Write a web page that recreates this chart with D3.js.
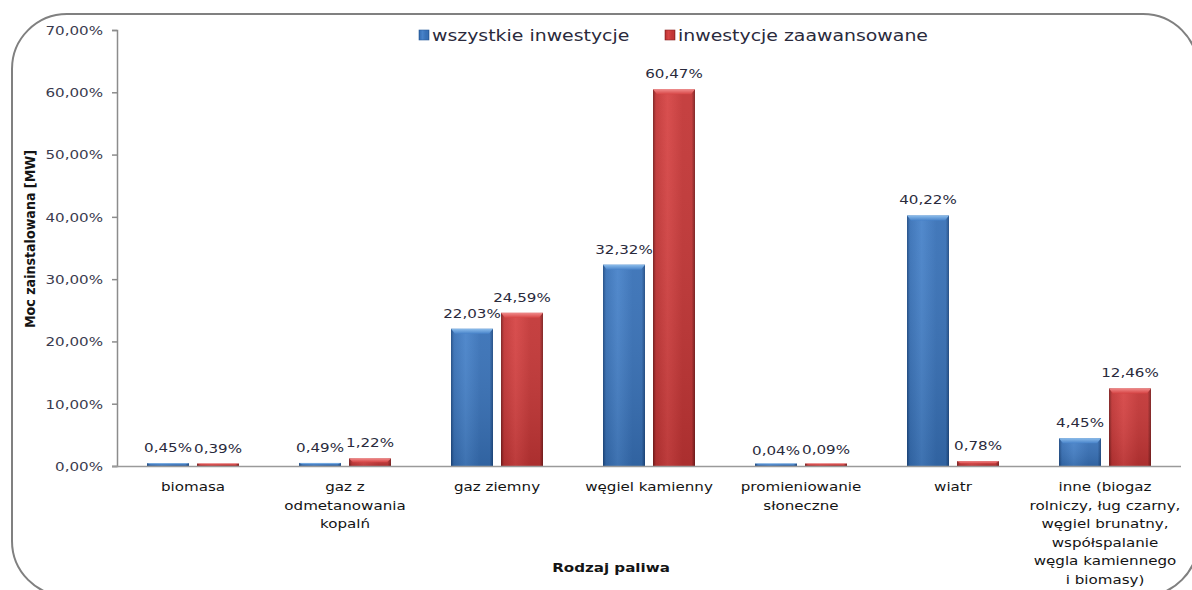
<!DOCTYPE html>
<html>
<head>
<meta charset="utf-8">
<script src="https://cdn.jsdelivr.net/npm/d3@7"></script>
<style>
  html, body { margin: 0; padding: 0; background: #ffffff; }
  svg { display: block; }
  text { font-family: "DejaVu Sans", Verdana, sans-serif; }
</style>
</head>
<body>
<svg id="chart" width="1192" height="590"></svg>
<script>
// Fuel types (category axis); "\n" marks a line break in the label
const categories = [
  "biomasa",
  "gaz z\nodmetanowania\nkopalń",
  "gaz ziemny",
  "węgiel kamienny",
  "promieniowanie\nsłoneczne",
  "wiatr",
  "inne (biogaz\nrolniczy, ług czarny,\nwęgiel brunatny,\nwspółspalanie\nwęgla kamiennego\ni biomasy)"
];
const seriesNames = ["wszystkie inwestycje", "inwestycje zaawansowane"];
const allInvestments = [0.45, 0.49, 22.03, 32.32, 0.04, 40.22, 4.45];
const advancedInvestments = [0.39, 1.22, 24.59, 60.47, 0.09, 0.78, 12.46];
const yTicks = [0, 10, 20, 30, 40, 50, 60, 70];
const yTitle = "Moc zainstalowana [MW]";
const xTitle = "Rodzaj paliwa";

const svg = d3.select("#chart");
const plot = { left: 117, right: 1181, top: 30, bottom: 466 };
const SX = 1.26; // horizontal stretch applied to horizontal text

const fmt = v => v.toFixed(2).replace(".", ",") + "%";

// ---------- gradients for bevelled bars ----------
const defs = svg.append("defs");
const palettes = [
  { id: "blue", edge: "#1d4982", mid: "#3770b6", light: "#4782c9", cap: "#8cbdeb" },
  { id: "red",  edge: "#7a1d1d", mid: "#c23535", light: "#d64444", cap: "#f08a8a" }
];
palettes.forEach(p => {
  const gh = defs.append("linearGradient").attr("id", "h-" + p.id)
    .attr("x1", "0").attr("x2", "1").attr("y1", "0").attr("y2", "0");
  [[0, p.edge], [0.07, p.mid], [0.35, p.light], [0.7, p.mid], [0.92, p.mid], [1, p.edge]]
    .forEach(([o, c]) => gh.append("stop").attr("offset", o).attr("stop-color", c));
  const gv = defs.append("linearGradient").attr("id", "v-" + p.id)
    .attr("x1", "0").attr("x2", "0").attr("y1", "0").attr("y2", "1");
  gv.append("stop").attr("offset", 0).attr("stop-color", "#ffffff").attr("stop-opacity", 0.06);
  gv.append("stop").attr("offset", 1).attr("stop-color", "#000000").attr("stop-opacity", 0.12);
  const gc = defs.append("linearGradient").attr("id", "c-" + p.id)
    .attr("x1", "0").attr("x2", "0").attr("y1", "0").attr("y2", "1");
  gc.append("stop").attr("offset", 0).attr("stop-color", p.cap);
  gc.append("stop").attr("offset", 1).attr("stop-color", p.light);
});

// ---------- frame ----------
svg.append("rect")
  .attr("x", 12).attr("y", 14).attr("width", 1186).attr("height", 582)
  .attr("rx", 55).attr("ry", 55)
  .attr("fill", "none").attr("stroke", "#808080").attr("stroke-width", 2);

// ---------- scales ----------
const x = d3.scaleBand().domain(categories).range([plot.left, plot.right]).padding(0);
const xs = d3.scaleBand().domain(seriesNames).range([0, x.bandwidth()])
  .paddingInner(0.16).paddingOuter(0.6);
const y = d3.scaleLinear().domain([0, 70]).range([plot.bottom, plot.top]);

// ---------- y axis ----------
const yAxis = svg.append("g")
  .attr("transform", `translate(${plot.left},0)`)
  .call(d3.axisLeft(y).tickValues(yTicks).tickFormat(fmt).tickSize(5).tickSizeOuter(5));
yAxis.select(".domain").attr("stroke", "#8c8c8c").attr("stroke-width", 1.5);
yAxis.selectAll(".tick line").attr("stroke", "#8c8c8c").attr("stroke-width", 1.5);
yAxis.selectAll(".tick text")
  .attr("x", -14 / SX).attr("dy", "0.36em")
  .attr("transform", `scale(${SX},1)`)
  .attr("font-size", 12).attr("fill", "#3a3a4e")
  .attr("font-family", "DejaVu Sans");

// ---------- bars ----------
const series = [
  { name: seriesNames[0], values: allInvestments, pal: "blue" },
  { name: seriesNames[1], values: advancedInvestments, pal: "red" }
];
const groups = svg.append("g").selectAll("g")
  .data(categories).join("g")
  .attr("transform", d => `translate(${x(d)},0)`);

groups.each(function (cat, i) {
  const g = d3.select(this);
  series.forEach(s => {
    const v = s.values[i];
    const x0 = xs(s.name), bw = xs.bandwidth();
    const top = y(v), h = Math.max(plot.bottom - top, 0);
    const hv = Math.max(h, 2.5);
    const t = plot.bottom - hv;
    g.append("rect").attr("x", x0).attr("y", t).attr("width", bw).attr("height", hv)
      .attr("fill", `url(#h-${s.pal})`);
    g.append("rect").attr("x", x0).attr("y", t).attr("width", bw).attr("height", hv)
      .attr("fill", `url(#v-${s.pal})`);
    const cap = Math.min(5, hv * 0.5);
    g.append("path")
      .attr("d", `M${x0},${t} L${x0 + bw},${t} L${x0 + bw - 4},${t + cap} L${x0 + 4},${t + cap} Z`)
      .attr("fill", `url(#c-${s.pal})`);
    g.append("text")
      .attr("transform", `translate(${x0 + bw / 2},${top - 11}) scale(${SX},1)`)
      .attr("text-anchor", "middle").attr("font-size", 12).attr("fill", "#2a2a3c")
      .text(fmt(v));
  });
});

// ---------- x axis ----------
const xAxis = svg.append("g")
  .attr("transform", `translate(0,${plot.bottom})`)
  .call(d3.axisBottom(x).tickSize(0).tickSizeOuter(0));
xAxis.select(".domain").attr("stroke", "#9a9a9a").attr("stroke-width", 1.5)
  .attr("d", `M${plot.left - 5},0.5H${plot.right}`);
xAxis.selectAll(".tick text").each(function (d) {
  const t = d3.select(this);
  t.text(null).attr("y", 0).attr("dy", null)
    .attr("font-size", 12).attr("fill", "#141414")
    .attr("transform", `translate(0,25) scale(${SX},1)`);
  d.split("\n").forEach((line, k) => {
    t.append("tspan").attr("x", 0).attr("y", k * 18.6).text(line);
  });
});

// ---------- axis titles ----------
svg.append("text")
  .attr("transform", `translate(611,572) scale(${SX},1)`)
  .attr("text-anchor", "middle").attr("font-size", 12).attr("font-weight", "bold")
  .attr("fill", "#141414").text(xTitle);

svg.append("text")
  .attr("transform", "translate(35,239) rotate(-90) scale(1,1.3)")
  .attr("text-anchor", "middle").attr("font-size", 11.5).attr("font-weight", "bold")
  .attr("font-family", "Liberation Sans")
  .attr("textLength", 178).attr("lengthAdjust", "spacingAndGlyphs")
  .attr("fill", "#141414").text(yTitle);

// ---------- legend ----------
const legendX = [419, 665];
const legend = svg.append("g").selectAll("g").data(series).join("g")
  .attr("transform", (d, i) => `translate(${legendX[i]},35)`);
legend.append("rect").attr("x", 0).attr("y", -5).attr("width", 10).attr("height", 10)
  .attr("fill", d => `url(#h-${d.pal})`).attr("stroke", d => d.pal === "blue" ? "#2a5c9c" : "#8a2424")
  .attr("stroke-width", 0.6);
legend.append("text")
  .attr("transform", `translate(13,5.5) scale(${SX},1)`)
  .attr("font-size", 15).attr("fill", "#2a2a3c")
  .text(d => d.name);
</script>
</body>
</html>
